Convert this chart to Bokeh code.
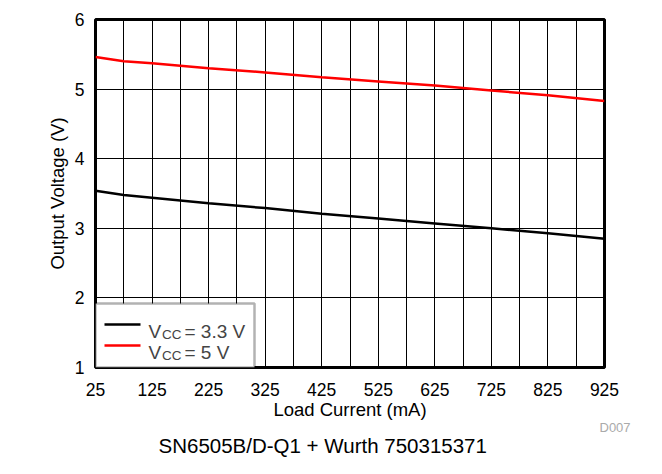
from bokeh.plotting import figure
from bokeh.models import FixedTicker, Label, BoxAnnotation, Arrow, Range1d, Title
from bokeh.embed import file_html
from bokeh.resources import INLINE

load_ma = [25, 75, 125, 225, 325, 425, 525, 625, 725, 825, 925]
vout_33 = [3.54, 3.48, 3.44, 3.36, 3.29, 3.21, 3.14, 3.07, 3.00, 2.93, 2.85]
vout_5 = [5.46, 5.40, 5.37, 5.30, 5.24, 5.17, 5.11, 5.05, 4.98, 4.91, 4.83]
x_ticks = [25, 125, 225, 325, 425, 525, 625, 725, 825, 925]
x_minor = [75, 175, 275, 375, 475, 575, 675, 775, 875]
y_ticks = [1, 2, 3, 4, 5, 6]
legend_labels = ["= 3.3 V", "= 5 V"]

FONT = "Liberation Sans"

p = figure(width=646, height=458, output_backend="svg", toolbar_location=None,
           x_range=Range1d(25, 925), y_range=Range1d(1, 6),
           min_border_left=95, min_border_right=42, min_border_top=19, min_border_bottom=0)
p.background_fill_color = "white"
p.border_fill_color = "white"
p.outline_line_color = "black"
p.outline_line_width = 3

p.xaxis.ticker = FixedTicker(ticks=x_ticks, minor_ticks=x_minor)
p.yaxis.ticker = FixedTicker(ticks=y_ticks)
for ax in (p.xaxis, p.yaxis):
    ax.axis_line_color = None
    ax.major_tick_line_color = None
    ax.minor_tick_line_color = None
    ax.major_label_text_font = FONT
    ax.major_label_text_font_size = "17.5px"
    ax.major_label_text_color = "black"
    ax.axis_label_text_font = FONT
    ax.axis_label_text_font_size = "18.5px"
    ax.axis_label_text_font_style = "normal"
    ax.axis_label_text_color = "black"
p.xaxis.axis_label = "Load Current (mA)"
p.yaxis.axis_label = "Output Voltage (V)"
p.xaxis.major_label_standoff = 9
p.yaxis.major_label_standoff = 5
p.xaxis.axis_label_standoff = 0
p.yaxis.axis_label_standoff = 4

p.xgrid.ticker = FixedTicker(ticks=x_ticks, minor_ticks=x_minor)
p.xgrid.grid_line_color = "black"
p.xgrid.grid_line_width = 1
p.xgrid.minor_grid_line_color = "black"
p.xgrid.minor_grid_line_width = 1
p.ygrid.ticker = FixedTicker(ticks=y_ticks)
p.ygrid.grid_line_color = "black"
p.ygrid.grid_line_width = 1

p.line(load_ma, vout_33, line_color="black", line_width=2.5)
p.line(load_ma, vout_5, line_color="#ff0000", line_width=2.5)

# legend, screen units relative to the frame's bottom-left corner
box = BoxAnnotation(left=0, right=159, bottom=0, top=64,
                    left_units="screen", right_units="screen", top_units="screen", bottom_units="screen",
                    fill_color="white", fill_alpha=1.0, line_color="black", line_width=2.5,
                    level="overlay")
p.add_layout(box)
legend_rows = [(legend_labels[0], "black", 43, 36), (legend_labels[1], "#ff0000", 22, 15)]
for txt, col, ly, by in legend_rows:
    p.add_layout(Arrow(x_start=9, y_start=ly, x_end=45, y_end=ly, start_units="screen", end_units="screen",
                       end=None, line_color=col, line_width=2.5, level="overlay"))
    p.add_layout(Label(x=53, y=by, x_units="screen", y_units="screen", text="V",
                       text_baseline="alphabetic", text_font=FONT, text_font_size="19px", level="overlay"))
    p.add_layout(Label(x=66.5, y=by - 2.5, x_units="screen", y_units="screen", text="CC",
                       text_baseline="alphabetic", text_font=FONT, text_font_size="13.5px", level="overlay"))
    p.add_layout(Label(x=89, y=by, x_units="screen", y_units="screen", text=txt,
                       text_baseline="alphabetic", text_font=FONT, text_font_size="19px", level="overlay"))

p.add_layout(Title(text="D007", align="left", offset=504, standoff=-10,
                   text_font=FONT, text_font_size="13px", text_color="#aaaaaa",
                   text_font_style="normal"), "below")
p.add_layout(Title(text="SN6505B/D-Q1 + Wurth 750315371", align="left", offset=63, standoff=4,
                   text_font=FONT, text_font_size="20.5px", text_color="black",
                   text_font_style="normal"), "below")

open("out.html", "w").write(file_html(p, INLINE))
